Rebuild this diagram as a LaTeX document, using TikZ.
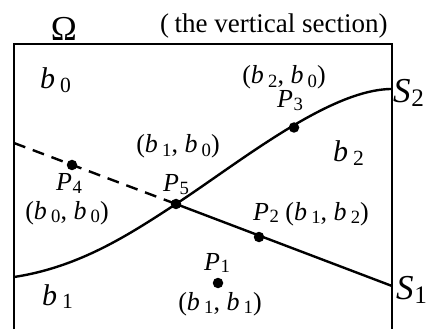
\documentclass[tikz,border=0pt]{standalone}
\usepackage{fontspec}
\usepackage{graphicx}
\setmainfont{Liberation Serif}
\newcommand{\rsub}[2]{\textit{#1}\kern.16em\raisebox{-.28ex}{\scalebox{.72}{#2}}}
\newcommand{\psub}[2]{\textit{#1}\kern.02em\raisebox{-.25ex}{\scalebox{.72}{#2}}}
\begin{document}
\begin{tikzpicture}[x=1pt,y=1pt,
  frame/.style={line width=1.3pt},
  curveline/.style={line width=2.4pt},
  dot/.style={circle,fill=black,inner sep=0pt,minimum size=10.5pt},
  lbl/.style={inner sep=0pt,font=\fontsize{26}{28}\selectfont},
  ttl/.style={inner sep=0pt,font=\fontsize{27}{29}\selectfont},
  reg/.style={inner sep=0pt,font=\fontsize{30}{32}\selectfont},
  big/.style={inner sep=0pt,font=\fontsize{35}{37}\selectfont}]
\useasboundingbox (0,0) rectangle (435,329);
% frame
\coordinate (bl) at (14,0);
\coordinate (tl) at (14,285);
\coordinate (tr) at (392,285);
\coordinate (br) at (392,0);
\draw[frame] (bl) -- (tl) -- (tr) -- (br);
% points
\coordinate (s2a) at (14,52);
\coordinate (s2b) at (392,240);
\coordinate (s1a) at (14,186);
\coordinate (s1b) at (392,43);
\node[dot] (p5) at (176,125) {};
\node[dot] (p4) at (72,164) {};
\node[dot] (p2) at (259,92) {};
\node[dot] (p3) at (294,201.5) {};
\node[dot] (p1) at (218,46) {};
% S2 curve
\draw[curveline] (s2a) .. controls (80,62) and (130,95) .. (p5.center)
  .. controls (240,167) and (330,240) .. (s2b);
% S1 line
\draw[curveline,dash pattern=on 12pt off 8pt] (s1a) -- (p5.center);
\draw[curveline] (p5.center) -- (s1b);
% labels
\node[big,anchor=base] (omega) at (64,288) {Ω};
\node[ttl,anchor=base west] (title) at (160,296) {(\kern.2em the vertical section)};
\node[reg,anchor=base west] (rb0) at (40,240) {\rsub{b}{0}};
\node[lbl,anchor=base] (l3) at (284,245) {(\rsub{b}{2}, \rsub{b}{0})};
\node[lbl,anchor=base] (lp3) at (290,221) {\psub{P}{3}};
\node[big,anchor=west] (S2) at (393,236) {\psub{S}{2}};
\node[lbl,anchor=base] (l5) at (178,176) {(\rsub{b}{1}, \rsub{b}{0})};
\node[reg,anchor=base west] (rb2) at (333,167) {\rsub{b}{2}};
\node[lbl,anchor=base] (lp4) at (69,138) {\psub{P}{4}};
\node[lbl,anchor=base] (l4) at (67,110) {(\rsub{b}{0}, \rsub{b}{0})};
\node[lbl,anchor=base] (lp5) at (176,137) {\psub{P}{5}};
\node[lbl,anchor=base west] (lp2) at (253,109) {\psub{P}{2} (\rsub{b}{1}, \rsub{b}{2})};
\node[big,anchor=west] (S1) at (396,39) {\psub{S}{1}};
\node[lbl,anchor=base] (lp1) at (217,59) {\psub{P}{1}};
\node[lbl,anchor=base] (l1) at (220,19) {(\rsub{b}{1}, \rsub{b}{1})};
\node[reg,anchor=base west] (rb1) at (42,24) {\rsub{b}{1}};
\end{tikzpicture}
\end{document}
